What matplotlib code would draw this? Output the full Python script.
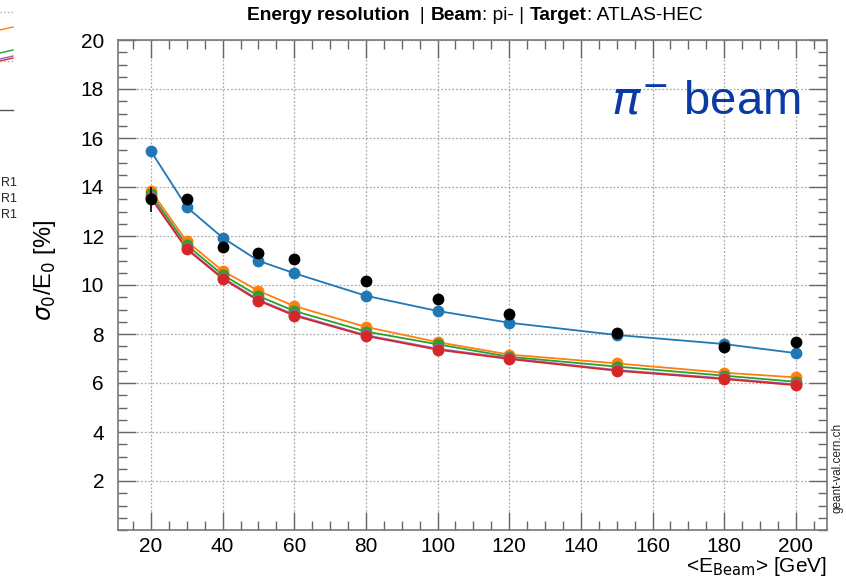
import matplotlib
matplotlib.use('Agg')
import matplotlib.pyplot as plt
from matplotlib.ticker import MultipleLocator, FixedLocator

plt.rcParams['font.family'] = ['Liberation Sans', 'DejaVu Sans']

energies = [20, 30, 40, 50, 60, 80, 100, 120, 150, 180, 200]
data_vals = [13.50, 13.50, 11.56, 11.29, 11.07, 10.15, 9.43, 8.82, 8.03, 7.48, 7.69]
data_errs = [0.50, 0.20, 0.08, 0.06, 0.06, 0.05, 0.05, 0.05, 0.05, 0.05, 0.05]
sim_blue = [15.46, 13.18, 11.93, 10.99, 10.48, 9.56, 8.94, 8.46, 7.96, 7.59, 7.22]
sim_orange = [13.84, 11.78, 10.58, 9.76, 9.14, 8.29, 7.67, 7.16, 6.80, 6.42, 6.23]
sim_green = [13.70, 11.63, 10.42, 9.55, 8.94, 8.10, 7.58, 7.07, 6.67, 6.30, 6.05]
sim_purple = [13.58, 11.50, 10.30, 9.40, 8.79, 7.95, 7.40, 7.01, 6.53, 6.19, 5.94]
sim_red = [13.55, 11.46, 10.26, 9.36, 8.75, 7.92, 7.36, 6.98, 6.50, 6.16, 5.91]

x_ticks = [20, 40, 60, 80, 100, 120, 140, 160, 180, 200]
y_ticks = [2, 4, 6, 8, 10, 12, 14, 16, 18, 20]

W, H = 846, 584
fig = plt.figure(figsize=(W / 100, H / 100), dpi=100)
ax = fig.add_axes([118 / W, (H - 530) / H, (827 - 118) / W, (530 - 40) / H])

series = [
    (sim_blue, '#1f77b4'),
    (sim_orange, '#ff7f0e'),
    (sim_green, '#2ca02c'),
    (sim_purple, '#9467bd'),
    (sim_red, '#d62728'),
]
for vals, col in series:
    ax.plot(energies, vals, '-', color=col, lw=1.3, zorder=3)
    ax.plot(energies, vals, 'o', color=col, ms=8.5, mec='none', zorder=4)

ax.errorbar(energies, data_vals, yerr=data_errs, fmt='o', color='black', ms=8.5,
            mec='none', elinewidth=1.2, capsize=0, zorder=6)

ax.set_xlim(10.8, 208.7)
ax.set_ylim(0, 20)
ax.xaxis.set_major_locator(FixedLocator(x_ticks))
ax.xaxis.set_minor_locator(MultipleLocator(5))
ax.yaxis.set_major_locator(FixedLocator(y_ticks))
ax.yaxis.set_minor_locator(MultipleLocator(0.5))
ax.tick_params(which='both', direction='in', top=True, right=True, colors='#666666',
               labelcolor='black', labelsize=15)
ax.tick_params(which='major', length=13, width=1)
ax.tick_params(which='minor', length=6.5, width=1)
ax.tick_params(axis='x', pad=5)
ax.tick_params(axis='y', pad=10)
for s in ax.spines.values():
    s.set_color('#777777')
    s.set_linewidth(1.2)
ax.grid(True, which='major', linestyle=(0, (1.5, 1.5)), color='#aaaaaa', lw=0.9, zorder=0)

ax.set_ylabel(r'$\sigma_{0}$/E$_{0}$ [%]', fontsize=17)
ax.yaxis.set_label_coords(-0.085, 0.53)
fig.text(827 / W, 1 - 567 / H, r'<E$_{\mathrm{Beam}}$> [GeV]', ha='right', va='center', fontsize=15)

ax.text(0.963, 0.875, r'$\pi^{-}$ beam', transform=ax.transAxes, ha='right', va='center',
        fontsize=34, color='#0a3aa6')

fig.text(837 / W, 1 - 468 / H, 'geant-val.cern.ch', rotation=90, ha='center', va='center',
         fontsize=8.5, color='#222222')

# title pieces
pieces = [('Energy resolution', 'bold'), ('  | ', 'normal'), ('Beam', 'bold'),
          (': pi- | ', 'normal'), ('Target', 'bold'), (': ATLAS-HEC', 'normal')]
fig.canvas.draw()
r = fig.canvas.get_renderer()
texts = []
for s, w in pieces:
    t = fig.text(0, 1 - 15 / H, s, fontsize=13.8, fontweight=w, ha='left', va='center')
    texts.append(t)
widths = [t.get_window_extent(r).width for t in texts]
total = sum(widths)
x0 = 474.5 - total / 2
for t, wd in zip(texts, widths):
    t.set_x(x0 / W)
    x0 += wd

# fragment of an off-canvas legend at the left edge
for yy, col, ls in [(12, '#aaaaaa', ':'), (27, '#ff7f0e', '-'), (50, '#2ca02c', '-'),
                    (56, '#9467bd', '-'), (58, '#d62728', '-'), (61, '#aaaaaa', ':'),
                    (110, '#555555', '-')]:
    dy = 3 if col not in ('#aaaaaa', '#555555') else 0
    fig.add_artist(plt.Line2D([0, 13 / W], [1 - (yy + dy) / H, 1 - yy / H], color=col,
                              lw=1.0, ls=ls, transform=fig.transFigure))
for yy in [183, 199, 215]:
    fig.text(1 / W, 1 - yy / H, 'R1', ha='left', va='center', fontsize=9, color='#222222')

fig.savefig('out.png', dpi=100)
